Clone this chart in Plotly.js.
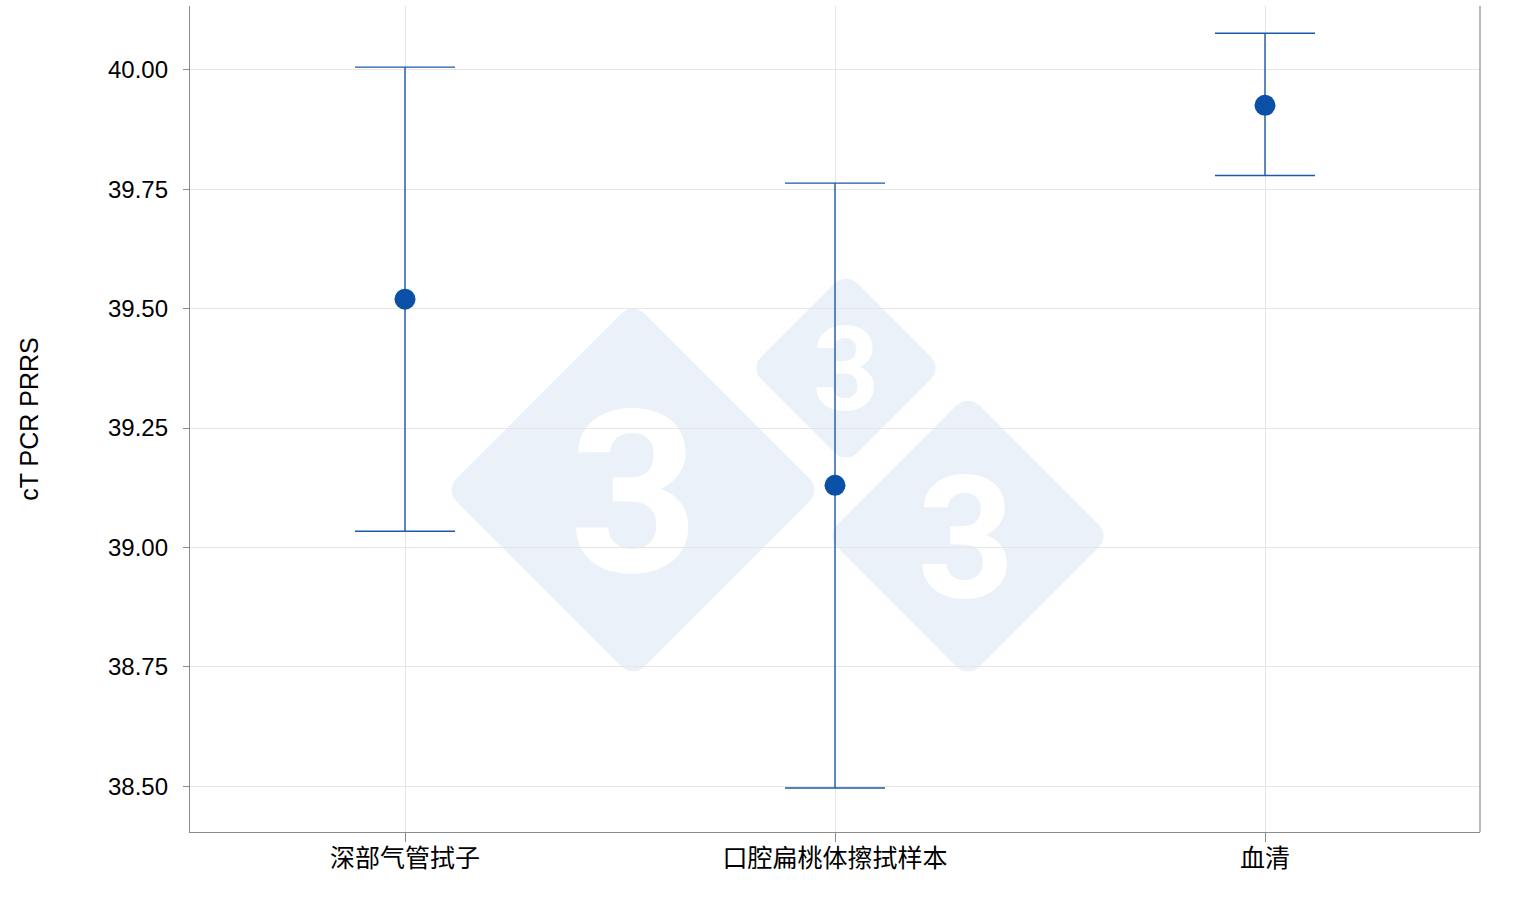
<!DOCTYPE html>
<html>
<head>
<meta charset="utf-8">
<script src="https://cdn.plot.ly/plotly-3.0.1.min.js"></script>
<style>html,body{margin:0;padding:0;background:#fff;}#chart{width:1524px;height:906px;}</style>
</head>
<body>
<div id="chart"></div>
<script>
// Data
const categories = ['深部气管拭子', '口腔扁桃体擦拭样本', '血清'];
const meanValues = [39.52, 39.13, 39.926];
const upperValues = [40.006, 39.763, 40.077];
const lowerValues = [39.034, 38.496, 39.779];
const yTickValues = [38.5, 38.75, 39.0, 39.25, 39.5, 39.75, 40.0];
const yTickLabels = ['38.50', '38.75', '39.00', '39.25', '39.50', '39.75', '40.00'];

const errPlus = upperValues.map((u, i) => u - meanValues[i]);
const errMinus = meanValues.map((m, i) => m - lowerValues[i]);

// Decorative watermark (plot-area pixel space 1290 x 826)
function diamond(cx, cy, half) {
  const s = (half + 6) * Math.SQRT2;
  return `<rect x="${cx - s / 2}" y="${cy - s / 2}" width="${s}" height="${s}" rx="16" ry="16" fill="#ebf1f8" transform="rotate(45 ${cx} ${cy})"/>`;
}
function three(cx, base, size) {
  return `<text x="${cx}" y="${base}" font-family="Roboto, DejaVu Sans, sans-serif" font-weight="bold" font-size="${size}" fill="#ffffff" text-anchor="middle">3</text>`;
}
const wmSvg = `<svg xmlns="http://www.w3.org/2000/svg" width="1290" height="826" viewBox="0 0 1290 826">` +
  diamond(443, 484, 182) + diamond(656, 362, 90) + diamond(778, 530, 136) +
  three(444, 566, 226) + three(656, 404, 116) + three(776, 591, 170) +
  `</svg>`;
const wmSrc = 'data:image/svg+xml;charset=utf-8,' + encodeURIComponent(wmSvg);

const baseFont = 'Liberation Sans, Arial, Noto Sans CJK SC, sans-serif';

const trace = {
  type: 'scatter',
  mode: 'markers',
  x: categories,
  y: meanValues,
  marker: { color: '#0a50a6', size: 21, line: { width: 0 } },
  error_y: {
    type: 'data',
    symmetric: false,
    array: errPlus,
    arrayminus: errMinus,
    color: '#1a5ba8',
    thickness: 1.4,
    width: 50
  },
  hoverinfo: 'x+y'
};

const layout = {
  width: 1524,
  height: 906,
  margin: { l: 190, r: 44, t: 6, b: 74 },
  paper_bgcolor: '#ffffff',
  plot_bgcolor: '#ffffff',
  showlegend: false,
  font: { family: baseFont, color: '#111111' },
  xaxis: {
    type: 'category',
    range: [-0.5, 2.5],
    showgrid: true,
    gridcolor: '#e6e6e6',
    gridwidth: 1,
    showline: true,
    linecolor: '#8c8c8c',
    linewidth: 1.2,
    ticks: 'outside',
    ticklen: 9,
    tickcolor: '#8c8c8c',
    ticklabelstandoff: -5,
    tickfont: { family: 'Noto Sans CJK SC, ' + baseFont, size: 25, color: '#000000' },
    zeroline: false
  },
  yaxis: {
    range: [38.404, 40.134],
    tickvals: yTickValues,
    ticktext: yTickLabels,
    showgrid: true,
    gridcolor: '#e6e6e6',
    gridwidth: 1,
    showline: true,
    linecolor: '#8c8c8c',
    linewidth: 1.2,
    ticks: 'outside',
    ticklen: 6,
    tickcolor: '#8c8c8c',
    ticklabelstandoff: 10,
    tickfont: { family: baseFont, size: 24, color: '#000000' },
    zeroline: false,
    title: { text: 'cT PCR PRRS', font: { family: baseFont, size: 25, color: '#000000' }, standoff: 62 }
  },
  shapes: [
    { type: 'line', xref: 'paper', yref: 'paper', x0: 1, x1: 1, y0: 0, y1: 1, line: { color: '#8c8c8c', width: 1.2 } }
  ],
  images: [
    { source: wmSrc, xref: 'paper', yref: 'paper', x: 0, y: 1, sizex: 1, sizey: 1, sizing: 'stretch', xanchor: 'left', yanchor: 'top', layer: 'below' }
  ]
};

Plotly.newPlot('chart', [trace], layout, { displayModeBar: false, staticPlot: true });
</script>
</body>
</html>
